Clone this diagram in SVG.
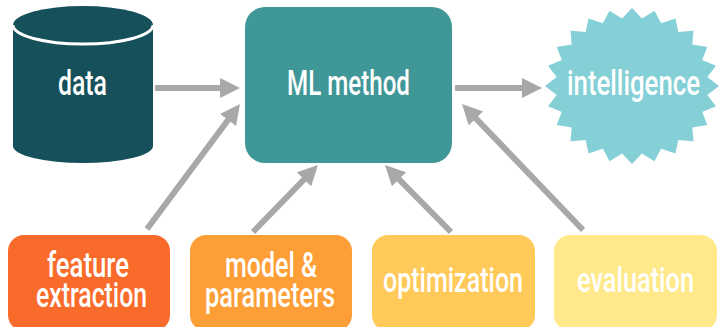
<svg xmlns="http://www.w3.org/2000/svg" width="719" height="327" viewBox="0 0 719 327">
<style>
.t{font-family:"Roboto","DejaVu Sans",sans-serif;font-size:35px;fill:#ffffff;font-weight:500}
.c{stroke:#a6a9a6;stroke-width:6;fill:none;marker-end:url(#ah)}
</style>
<defs>
<marker id="ah" markerUnits="userSpaceOnUse" viewBox="0 0 20 20" refX="14" refY="10" markerWidth="20" markerHeight="21" orient="auto">
<path d="M0,0 L20,10 L0,20 Z" fill="#a6a9a6"/>
</marker>
</defs>
<g id="connectors">
<line class="c" x1="155" y1="88" x2="234" y2="88"/>
<line class="c" x1="455" y1="88" x2="536" y2="88"/>
<line class="c" x1="147" y1="229" x2="236.4" y2="108.8"/>
<line class="c" x1="253" y1="232" x2="313.8" y2="169.3"/>
<line class="c" x1="451" y1="232" x2="389.2" y2="169.3"/>
<line class="c" x1="583" y1="230" x2="466.2" y2="108.3"/>
</g>
<g id="data">
<path d="M13,25 A70,19 0 0 1 153,25 L153,146 A70,17 0 0 1 13,146 Z" fill="#16505a"/>
<path d="M13,25 A70,19 0 0 0 153,25" fill="none" stroke="#ffffff" stroke-width="3"/>
<text class="t" x="82.5" y="95" text-anchor="middle" textLength="49" lengthAdjust="spacingAndGlyphs">data</text>
</g>
<g id="ml">
<rect x="245" y="7" width="207" height="156" rx="20" fill="#3f9797"/>
<text class="t" x="348.5" y="95" text-anchor="middle" textLength="123" lengthAdjust="spacingAndGlyphs">ML method</text>
</g>
<g id="intelligence">
<polygon transform="translate(632,86)" fill="#84d0d6" points="87,0 75.3,8.9 84,20.2 70.2,26 75.3,39 60.3,41.4 61.5,55.2 46.3,54 43.5,67.5 29.1,62.8 22.5,75.3 9.9,67.4 0,78 -9.9,67.4 -22.5,75.3 -29.1,62.8 -43.5,67.5 -46.3,54 -61.5,55.2 -60.3,41.4 -75.3,39 -70.2,26 -84,20.2 -75.3,8.9 -87,0 -75.3,-8.9 -84,-20.2 -70.2,-26 -75.3,-39 -60.3,-41.4 -61.5,-55.2 -46.3,-54 -43.5,-67.5 -29.1,-62.8 -22.5,-75.3 -9.9,-67.4 0,-78 9.9,-67.4 22.5,-75.3 29.1,-62.8 43.5,-67.5 46.3,-54 61.5,-55.2 60.3,-41.4 75.3,-39 70.2,-26 84,-20.2 75.3,-8.9"/>
<text class="t" x="633.5" y="95" text-anchor="middle" textLength="133" lengthAdjust="spacingAndGlyphs">intelligence</text>
</g>
<g id="feature">
<rect x="8" y="235" width="162" height="96" rx="16" fill="#f96b2b"/>
<text class="t" x="88" y="277" text-anchor="middle" textLength="82" lengthAdjust="spacingAndGlyphs">feature</text>
<text class="t" x="91.5" y="307" text-anchor="middle" textLength="111" lengthAdjust="spacingAndGlyphs">extraction</text>
</g>
<g id="model">
<rect x="190" y="235" width="162" height="96" rx="16" fill="#fe9e37"/>
<text class="t" x="271" y="277" text-anchor="middle" textLength="92" lengthAdjust="spacingAndGlyphs">model &amp;</text>
<text class="t" x="270" y="307" text-anchor="middle" textLength="130" lengthAdjust="spacingAndGlyphs">parameters</text>
</g>
<g id="optimization">
<rect x="372" y="235" width="163" height="96" rx="16" fill="#ffca5a"/>
<text class="t" x="453" y="292" text-anchor="middle" textLength="140" lengthAdjust="spacingAndGlyphs">optimization</text>
</g>
<g id="evaluation">
<rect x="554" y="235" width="163" height="96" rx="16" fill="#ffe98a"/>
<text class="t" x="635.5" y="292" text-anchor="middle" textLength="117" lengthAdjust="spacingAndGlyphs">evaluation</text>
</g>
</svg>
